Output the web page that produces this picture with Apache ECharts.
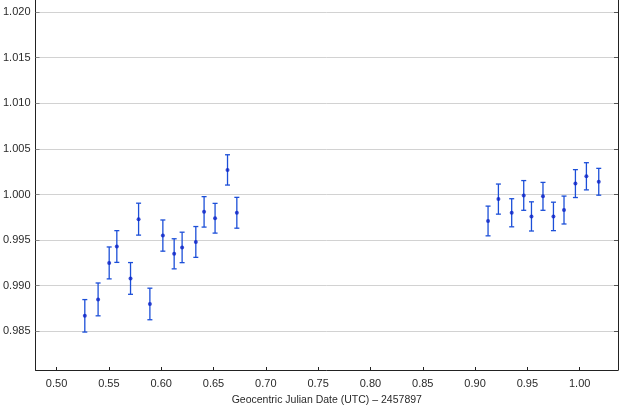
<!DOCTYPE html>
<html>
<head>
<meta charset="utf-8">
<script src="https://cdn.jsdelivr.net/npm/echarts@6/dist/echarts.min.js"></script>
<style>
html,body{margin:0;padding:0;background:#fff;}
#chart{width:630px;height:411px;}
</style>
</head>
<body>
<div id="chart"></div>
<script>
// Data
const xValues = [0.5270,0.5397,0.5503,0.5576,0.5707,0.5784,0.5892,0.6016,0.6124,0.6200,0.6331,0.6410,0.6515,0.6634,0.6723,
                 0.9124,0.9223,0.9350,0.9465,0.9539,0.9649,0.9749,0.9850,0.9959,1.0064,1.0182];
const yValues = [0.9867,0.9885,0.9925,0.9943,0.9908,0.9973,0.9880,0.9955,0.9935,0.9942,0.9948,0.9981,0.9974,1.0027,0.9980,
                 0.9971,0.9995,0.9980,0.9999,0.9976,0.9998,0.9976,0.9983,1.0012,1.0020,1.0014];
const yErrors = [0.00178,0.00180,0.00175,0.00174,0.00174,0.00175,0.00173,0.00171,0.00165,0.00167,0.00169,0.00167,0.00163,0.00166,0.00169,
                 0.00163,0.00165,0.00154,0.00163,0.00160,0.00153,0.00156,0.00153,0.00153,0.00149,0.00147];
const xTicks = [0.50,0.55,0.60,0.65,0.70,0.75,0.80,0.85,0.90,0.95,1.00];
const yTicks = [0.985,0.990,0.995,1.000,1.005,1.010,1.015,1.020];
const xTitle = 'Geocentric Julian Date (UTC) – 2457897';

const pointData = xValues.map((x,i)=>[x,yValues[i]]);
const errData = xValues.map((x,i)=>[x,yValues[i],yErrors[i]]);

const textColor = '#2a2a2a';
const fontFamily = '"Liberation Sans", Arial, sans-serif';

const chart = echarts.init(document.getElementById('chart'), null, {renderer:'canvas'});
chart.setOption({
  animation:false,
  backgroundColor:'#ffffff',
  grid:{left:35.5, right:12, top:0, bottom:35.5, containLabel:false},
  xAxis:{
    type:'value', min:0.4799, max:1.0366,
    name:xTitle, nameLocation:'middle', nameGap:25,
    nameTextStyle:{color:textColor, fontSize:10.5, fontFamily:fontFamily},
    axisLine:{show:true, lineStyle:{color:'#222', width:1}},
    axisTick:{show:true, inside:true, length:3, customValues:xTicks, lineStyle:{color:'#222'}},
    axisLabel:{show:true, customValues:xTicks, color:textColor, fontSize:11, fontFamily:fontFamily, margin:8,
      formatter:v=>v.toFixed(2)},
    splitLine:{show:false}
  },
  yAxis:[{
    type:'value', min:0.98076, max:1.02133, position:'left',
    axisLine:{show:true, lineStyle:{color:'#222', width:1}},
    axisTick:{show:true, inside:true, length:4, customValues:yTicks, lineStyle:{color:'#888'}},
    axisLabel:{show:true, customValues:yTicks, color:textColor, fontSize:11, fontFamily:fontFamily, margin:5,
      formatter:v=>v.toFixed(3)},
    splitLine:{show:true, lineStyle:{color:'#d2d2d2', width:1}}
  },{
    type:'value', min:0.98076, max:1.02133, position:'right',
    axisLine:{show:true, lineStyle:{color:'#222', width:1}},
    axisTick:{show:true, inside:true, length:4, customValues:yTicks, lineStyle:{color:'#555'}},
    axisLabel:{show:false},
    splitLine:{show:false}
  }],
  series:[{
    type:'custom',
    data:errData,
    renderItem:function(params, api){
      const x = api.value(0), y = api.value(1), e = api.value(2);
      const top = api.coord([x, y+e]);
      const bot = api.coord([x, y-e]);
      const cw = 2.5;
      const style = {stroke:'#1c4fd8', lineWidth:1.3};
      return {type:'group', children:[
        {type:'line', shape:{x1:top[0], y1:top[1], x2:bot[0], y2:bot[1]}, style:style},
        {type:'line', shape:{x1:top[0]-cw, y1:top[1], x2:top[0]+cw, y2:top[1]}, style:style},
        {type:'line', shape:{x1:bot[0]-cw, y1:bot[1], x2:bot[0]+cw, y2:bot[1]}, style:style}
      ]};
    },
    z:2
  },{
    type:'scatter',
    data:pointData,
    symbol:'circle', symbolSize:4,
    itemStyle:{color:'#0a22c8'},
    z:3
  }]
});
</script>
</body>
</html>
